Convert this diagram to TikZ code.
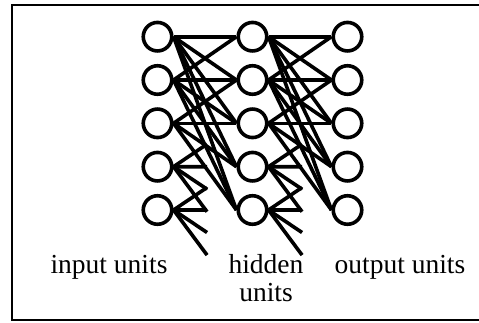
\documentclass[tikz,border=0pt]{standalone}
\usepackage{fontspec}
\setmainfont{Liberation Serif}
\usetikzlibrary{calc}
\begin{document}
\begin{tikzpicture}[x=1pt,y=-1pt,
  unit/.style={circle,draw,line width=3.6pt,minimum size=28.5pt,inner sep=0pt},
  conn/.style={line width=3.6pt},
  frame/.style={line width=2.4pt},
  lbl/.style={font=\fontsize{27.5}{28}\selectfont,inner sep=0pt,anchor=base}]
\useasboundingbox (0,0) rectangle (479,322);
\draw[frame] (12,5) rectangle (481,320);
% units
\foreach \r/\y in {1/36.7,2/80,3/123.3,4/166.7,5/210}{
  \node[unit] (i\r) at (157.5,\y) {};
  \node[unit] (h\r) at (252.5,\y) {};
  \node[unit] (o\r) at (347.5,\y) {};
}
% west points of the units (and of units further down, off the picture)
\foreach \r/\y in {1/36.7,2/80,3/123.3,4/166.7,5/210,6/253.3,7/296.7}{
  \coordinate (hw\r) at (238,\y);
  \coordinate (ow\r) at (333,\y);
}
% full connections
\foreach \a/\b in {1/1,1/2,1/3,1/4,1/5,2/1,2/2,2/3,2/4,2/5,3/2,3/3,3/4,3/5}{
  \draw[conn] (i\a.east) -- (h\b.west);
  \draw[conn] (h\a.east) -- (o\b.west);
}
% truncated connections
\foreach \a/\b in {4/3,4/4,4/5,4/6,5/4,5/5,5/6,5/7}{
  \draw[conn] (i\a.east) -- ($(i\a.east)!0.52!(hw\b)$);
  \draw[conn] (h\a.east) -- ($(h\a.east)!0.52!(ow\b)$);
}
% labels
\node[lbl] (lin) at (109,273) {input units};
\node[lbl] (lhid) at (266,273) {hidden};
\node[lbl] (lhid2) at (266,301) {units};
\node[lbl] (lout) at (400,273) {output units};
\end{tikzpicture}
\end{document}
